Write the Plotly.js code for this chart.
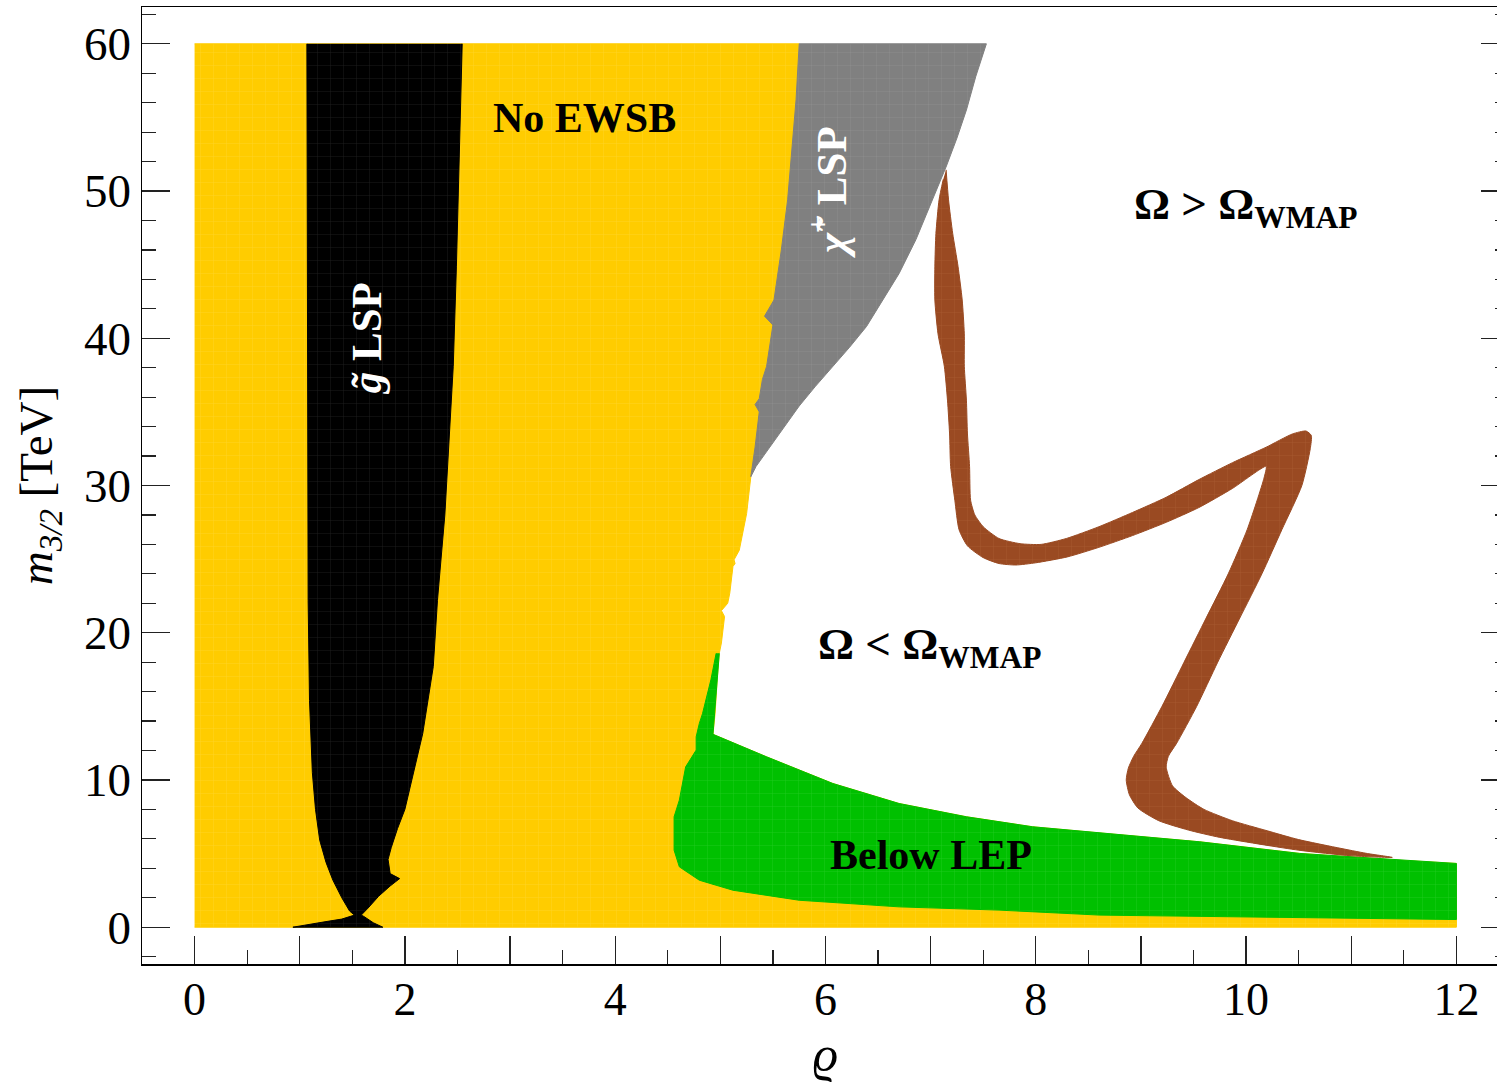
<!DOCTYPE html>
<html>
<head>
<meta charset="utf-8">
<script src="https://cdn.plot.ly/plotly-3.0.1.min.js"></script>
<style>
html, body { margin: 0; padding: 0; overflow: hidden; background: #fff; }
#chart { width: 1511px; height: 1082px; }
</style>
</head>
<body>
<div id="chart"></div>
<script>
// ---------- data (rho, m_3/2 [TeV]) ----------
// No EWSB region (yellow): rectangle edge + boundary with the allowed region
const noEwsbX = [0, 12, 12, 11.46, 10.51, 9.56, 8.61, 7.97, 7.34, 6.70, 6.07, 5.44, 4.93, 4.95, 4.97,
  4.99, 5.01, 5.04, 5.01, 5.07, 5.09, 5.12, 5.14, 5.13, 5.18, 5.25, 5.29, 5.33, 5.37, 5.33, 5.37, 5.40, 5.44, 5.50, 5.42, 5.51, 5.58, 5.64, 5.72, 5.75, 0];
const noEwsbY = [0, 0, 4.33, 4.55, 5.01, 5.80, 6.40, 6.82, 7.50, 8.40, 9.76, 11.57, 13.1, 14.5, 16.8,
  18.6, 19.3, 21.1, 21.5, 22.0, 22.7, 24.5, 24.7, 24.95, 25.6, 28.1, 30.6, 32.6, 35.0, 35.5, 35.9, 37.2, 38.1, 40.9, 41.5, 42.6, 46.0, 49.4, 56.2, 60, 60];

// gluino LSP region (black)
const gluinoX = [1.068, 1.075, 1.078, 1.08, 1.093, 1.12, 1.15, 1.19, 1.25, 1.315, 1.40, 1.474, 1.52, 1.40, 1.25, 1.10, 0.935,
  1.79, 1.70, 1.61, 1.585, 1.65, 1.75, 1.86, 1.95, 1.86, 1.84, 1.87, 1.93, 2.0, 2.06, 2.17, 2.27, 2.31, 2.38, 2.44, 2.46, 2.49, 2.52, 2.545];
const gluinoY = [60, 45, 35.8, 22.2, 15.4, 10.5, 8.0, 5.91, 4.4, 3.2, 2.0, 1.1, 0.82, 0.55, 0.38, 0.22, 0,
  0, 0.3, 0.73, 0.82, 1.3, 2.1, 2.8, 3.3, 3.64, 4.6, 5.4, 6.7, 8.0, 9.8, 13.16, 17.7, 22.2, 28.0, 35.8, 38.1, 44.9, 52.8, 60];

// chargino LSP region (grey): boundary with No EWSB, then outer edge
const charginoX = [5.29, 5.33, 5.37, 5.33, 5.37, 5.40, 5.44, 5.50, 5.42, 5.51, 5.58, 5.64, 5.72, 5.75,
  7.53, 7.43, 7.34, 7.25, 7.15, 7.02, 6.86, 6.70, 6.54, 6.39, 6.23, 6.07, 5.90, 5.75, 5.62, 5.50, 5.41, 5.34, 5.29];
const charginoY = [30.6, 32.6, 35.0, 35.5, 35.9, 37.2, 38.1, 40.9, 41.5, 42.6, 46.0, 49.4, 56.2, 60,
  60, 57.8, 55.5, 53.6, 51.7, 49.4, 46.7, 44.4, 42.5, 40.8, 39.4, 38.1, 36.7, 35.4, 34.1, 32.9, 32.0, 31.3, 30.6];

// below LEP region (green)
const lepX = [4.99, 4.97, 4.95, 4.93, 5.44, 6.07, 6.70, 7.34, 7.97, 8.61, 9.56, 10.51, 11.46, 12.0, 12.0, 8.61, 7.65, 6.70, 5.75, 5.12, 4.80, 4.61,
  4.56, 4.56, 4.61, 4.67, 4.77, 4.77, 4.80, 4.83, 4.91, 4.96];
const lepY = [18.6, 16.8, 14.5, 13.1, 11.57, 9.76, 8.40, 7.50, 6.82, 6.40, 5.80, 5.01, 4.55, 4.33, 0.52, 0.82, 1.16, 1.38, 1.83, 2.51, 3.19, 4.1,
  5.23, 7.5, 8.63, 10.89, 12.03, 12.93, 13.84, 14.5, 16.8, 18.6];

// WMAP band (brown)
const wmapX = [7.147, 7.17, 7.21, 7.26, 7.30, 7.32, 7.32, 7.34, 7.35, 7.37, 7.38, 7.42, 7.50, 7.65, 7.85, 8.05, 8.29, 8.60, 8.92, 9.24, 9.55, 9.87, 10.19, 10.44, 10.57,
  10.62, 10.61, 10.53, 10.34, 10.15, 9.94, 9.73, 9.53, 9.34, 9.26, 9.24, 9.30, 9.43, 9.60, 9.87, 10.20, 10.50, 11.14, 11.39,
  11.0, 10.5, 9.75, 9.45, 9.17, 8.97, 8.89, 8.86, 8.88, 8.93, 9.01, 9.20, 9.41, 9.62, 9.83, 10.01, 10.17, 10.19,
  9.87, 9.55, 9.24, 8.92, 8.60, 8.30, 8.00, 7.81, 7.65, 7.50, 7.35, 7.27, 7.23, 7.19, 7.18, 7.16, 7.13, 7.07, 7.04, 7.04, 7.05, 7.08, 7.12];
const wmapY = [51.44, 49.4, 47.1, 44.9, 42.6, 40.3, 38.1, 35.8, 33.5, 31.3, 29.0, 28.0, 27.2, 26.4, 26.05, 26.0, 26.4, 27.2, 28.17, 29.2, 30.4, 31.55, 32.6, 33.5, 33.7,
  33.4, 32.5, 30.0, 27.0, 24.0, 21.0, 18.0, 15.0, 12.5, 11.6, 10.87, 9.6, 8.79, 8.0, 7.23, 6.55, 5.95, 5.02, 4.74,
  4.85, 5.23, 6.1, 6.6, 7.23, 8.1, 9.0, 10.0, 10.8, 11.6, 12.5, 15.0, 18.0, 21.0, 24.0, 27.0, 30.5, 31.3,
  29.8, 28.5, 27.5, 26.6, 25.8, 25.15, 24.75, 24.6, 24.7, 25.1, 25.9, 27.0, 29.0, 31.3, 33.5, 35.8, 38.1, 40.3, 42.6, 44.9, 47.1, 49.4, 50.8];

// axis ticks
const xTickVals = [0, 1, 2, 3, 4, 5, 6, 7, 8, 9, 10, 11, 12];
const xTickText = ['0', '', '2', '', '4', '', '6', '', '8', '', '10', '', '12'];
const yTickVals = [0, 10, 20, 30, 40, 50, 60];

// ---------- drawing ----------
const serif = 'Liberation Serif, Times New Roman, serif';
function region(x, y, color, mesh, smooth) {
  return {
    type: 'scatter', mode: 'lines', x: x, y: y, fill: 'toself',
    fillcolor: color,
    line: smooth ? { color: color, width: 1, shape: 'spline', smoothing: smooth } : { color: color, width: 1 },
    fillpattern: { shape: '+', size: 13, solidity: 0.06, fgcolor: mesh, fgopacity: 0.35, bgcolor: color },
    hoverinfo: 'skip', showlegend: false
  };
}

const traces = [
  region(noEwsbX, noEwsbY, '#FFCC00', '#FFE680'),
  region(charginoX, charginoY, '#808080', '#B0B0B0'),
  region(gluinoX, gluinoY, '#000000', '#606060'),
  region(lepX, lepY, '#00C000', '#60E060'),
  region(wmapX, wmapY, '#9A4A22', '#C07850', 0.6)
];

const bold = { family: serif, size: 42, color: '#000' };
const boldO = { family: serif, size: 45, color: '#000' };
const boldW = { family: serif, size: 43, color: '#fff' };
const annotations = [
  { x: 3.71, y: 54.97, text: '<b>No EWSB</b>', font: bold },
  { x: 1.63, y: 40.0, text: '<b><i>g̃</i> LSP</b>', font: boldW, textangle: -90 },
  { x: 6.02, y: 49.9, text: '<b><i>χ̃</i><sup>+</sup> LSP</b>', font: boldW, textangle: -90 },
  { x: 9.99, y: 48.9, text: '<b>Ω &gt; Ω<sub>WMAP</sub></b>', font: boldO },
  { x: 6.99, y: 19.0, text: '<b>Ω &lt; Ω<sub>WMAP</sub></b>', font: boldO },
  { x: 7.0, y: 4.89, text: '<b>Below LEP</b>', font: bold }
].map(a => Object.assign({ xref: 'x', yref: 'y', showarrow: false, xanchor: 'center', yanchor: 'middle' }, a));

const layout = {
  width: 1511, height: 1082,
  margin: { l: 142, r: 2, t: 7, b: 118 },
  paper_bgcolor: '#fff', plot_bgcolor: '#fff',
  font: { family: serif, color: '#000' },
  showlegend: false,
  xaxis: {
    range: [-0.5, 12.5], showgrid: false, zeroline: false,
    showline: true, linecolor: '#000', linewidth: 1.5, mirror: true,
    ticks: 'inside', ticklen: 28, tickwidth: 1.3, tickcolor: '#222',
    tickmode: 'array', tickvals: xTickVals, ticktext: xTickText,
    tickfont: { family: serif, size: 46, color: '#000' },
    ticklabelstandoff: -6,
    minor: { ticks: 'inside', ticklen: 14, tickwidth: 1.3, tickcolor: '#222', dtick: 0.5, tick0: 0 },
    title: { text: '<i>ϱ</i>', font: { family: serif, size: 50, color: '#000' }, standoff: 24 }
  },
  yaxis: {
    range: [-2.5, 62.5], showgrid: false, zeroline: false,
    showline: true, linecolor: '#000', linewidth: 1.5, mirror: 'ticks',
    ticks: 'inside', ticklen: 28, tickwidth: 1.3, tickcolor: '#222',
    tickmode: 'array', tickvals: yTickVals,
    tickfont: { family: serif, size: 47, color: '#000' },
    minor: { ticks: 'inside', ticklen: 14, tickwidth: 1.3, tickcolor: '#222', dtick: 2, tick0: 0 },
    title: { text: '<i>m</i><sub><i>3/2</i></sub> [TeV]', font: { family: serif, size: 47, color: '#000' }, standoff: 16 }
  },
  annotations: annotations
};

Plotly.newPlot('chart', traces, layout, { displayModeBar: false, staticPlot: true });
</script>
</body>
</html>
